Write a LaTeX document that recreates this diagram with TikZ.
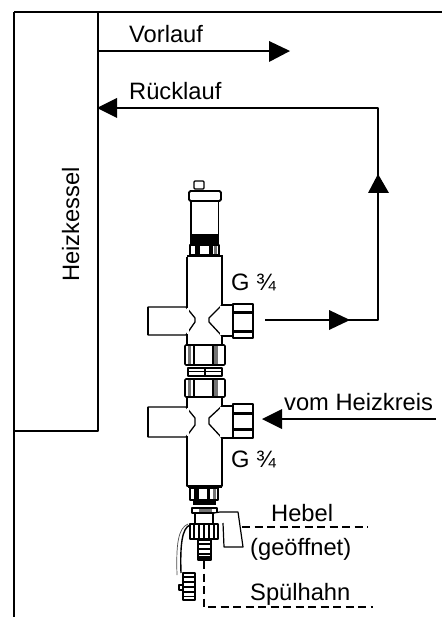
\documentclass[tikz,border=0pt]{standalone}
\usepackage{fontspec}
\setmainfont{Liberation Sans}
\begin{document}
\begin{tikzpicture}[x=1pt,y=-1pt,line join=round,
  wall/.style={line width=1.5pt},
  pipe/.style={line width=1.3pt},
  pipe thick/.style={line width=1.9pt},
  leader/.style={line width=1.2pt,dash pattern=on 8pt off 4.5pt},
  part/.style={draw,fill=white,line width=1.3pt},
  ink/.style={fill=black,draw=none},
  grey/.style={fill=black!55,draw=none},
  lbl/.style={inner sep=0pt,font=\fontsize{23.7pt}{26pt}\selectfont,anchor=base west},
  tip/.style={fill=black,draw=none}]
\useasboundingbox (0,0) rectangle (442,617);
\fill[white] (0,0) rectangle (442,617);
% boiler
\coordinate (tl) at (14,12); \coordinate (tr) at (442,12);
\coordinate (tm) at (98,12); \coordinate (bm) at (98,431);
\coordinate (bl) at (14,431); \coordinate (ll) at (14,617);
\draw[wall] (tl)--(tr);
\draw[wall] (tl)--(ll);
\draw[wall] (tm)--(bm)--(bl);
\node[lbl,rotate=90] (heiz) at (79,282) {Heizkessel};
% pipes
\coordinate (v0) at (98,51); \coordinate (v1) at (272,51);
\draw[pipe] (v0)--(v1);
\fill[tip] (269,41)--(290,51)--(269,62)--cycle;
\coordinate (r0) at (378,108); \coordinate (r1) at (110,108);
\coordinate (r2) at (378,320); \coordinate (r3) at (340,320);
\coordinate (r4) at (378,302); \coordinate (r5) at (378,190);
\coordinate (r6) at (265,320); \coordinate (r7) at (332,320);
\draw[pipe] (r3)--(r2)--(r0)--(r1);
\draw[pipe thick] (r4)--(r5);
\draw[pipe thick] (r6)--(r7);
\fill[tip] (97,108)--(117,98)--(117,118)--cycle;
\fill[tip] (378,174)--(368,193)--(389,193)--cycle;
\fill[tip] (329,310)--(350,320)--(329,330)--cycle;
\coordinate (h0) at (436,419); \coordinate (h1) at (275,419);
\draw[pipe] (h0)--(h1);
\fill[tip] (262,419)--(282,409)--(282,429)--cycle;
% labels
\node[lbl] (vor) at (129,43) {Vorlauf};
\node[lbl] (rue) at (129,100) {Rücklauf};
\node[lbl] (g1) at (231,290) {G ¾};
\node[lbl] (vom) at (284,410) {vom Heizkreis};
\node[lbl] (g2) at (231,467) {G ¾};
\node[lbl] (heb) at (271,521) {Hebel};
\node[lbl] (geo) at (250,555) {(geöffnet)};
\node[lbl] (spu) at (250,600) {Spülhahn};
% vent
\draw[part,rounded corners=1pt,line width=1.4pt] (194,181) rectangle (204,189);
\draw[part,line width=1.8pt,rounded corners=1.5pt] (189,191) rectangle (221,201);
\draw[part] (191,201) rectangle (218.5,235);
\fill[ink] (190,235) rectangle (219,245);
\draw[part] (190,245) rectangle (219,255);
\fill[ink] (195,245) rectangle (199.5,255);
\fill[ink] (209,245) rectangle (212.5,255);
\fill[grey] (214,246) rectangle (217,254);
% upper body
\draw[part] (187,257) -- (187,345) -- (222,345) -- (222,257);
\draw[line width=2.4pt] (187,256) -- (222.5,256);
% upper left stub
\draw[part] (148,307) -- (186,307) -- (195,318) -- (195,322) -- (186,335) -- (148,335) -- cycle;
\draw[line width=2.2pt] (148,307) -- (148,335);
\fill[white] (186.5,308) rectangle (189,334);
% upper right stub
\draw[part] (222,305) -- (209,318) -- (209,322) -- (222,336);
\draw[part] (222,305) -- (233,305) -- (233,336) -- (222,336);
\fill[white] (220,306) rectangle (223,335);
\draw[part,line width=1.6pt] (233,304) rectangle (253,338);
\fill[ink] (233,310.5) rectangle (253,313.5);
\fill[ink] (233,330) rectangle (253,333);
% upper nut
\draw[part,line width=1.6pt,rounded corners=1pt] (185,345) rectangle (225,365);
\draw[line width=1.3pt] (194,345)--(194,365) (213,345)--(213,365);
\fill[grey] (214,346) rectangle (218,364);
\fill[grey] (188,346) rectangle (191,364);
% ring
\draw[part] (188,368) rectangle (222,371.5);
\draw[part] (188,371.5) rectangle (222,376);
\draw[line width=1.1pt] (205,368)--(205,376);
% lower nut
\draw[part,line width=1.6pt,rounded corners=1pt] (185,379) rectangle (225,397);
\draw[line width=1.3pt] (194,379)--(194,397) (213,379)--(213,397);
\fill[grey] (214,380) rectangle (218,396);
\fill[grey] (188,380) rectangle (191,396);
% lower body
\draw[part] (187,398) -- (187,486) -- (222,486) -- (222,398);
\draw[line width=2.4pt] (188,487) -- (221.5,487);
% lower left stub
\draw[part] (148,407) -- (186,407) -- (195,418) -- (195,425) -- (186,437) -- (148,437) -- cycle;
\draw[line width=2.2pt] (148,407) -- (148,437);
\fill[white] (186.5,408) rectangle (189,436);
% lower right stub
\draw[part] (222,406) -- (209,418) -- (209,424) -- (222,438);
\draw[part] (222,406) -- (233,406) -- (233,438) -- (222,438);
\fill[white] (220,407) rectangle (223,437);
\draw[part,line width=1.6pt] (233,404) rectangle (253,438);
\fill[ink] (233,412) rectangle (253,415);
\fill[ink] (233,428) rectangle (253,431);
% lower thread
\draw[part] (190,488) rectangle (218,500);
\fill[ink] (194,488) rectangle (199,500);
\fill[ink] (207,488) rectangle (210,500);
\fill[grey] (213,489) rectangle (216,499);
\fill[ink] (193,500) rectangle (216,505);
% drain tap
\draw[part,line width=1.5pt] (192,508) rectangle (217,513);
\fill[grey] (199,508.5) rectangle (212,512.5);
\draw[part] (195,513) rectangle (213,524);
\draw[part,line width=1.2pt] (214,513) -- (220,512) -- (238,512) -- (243,547) -- (224,547) -- (223,523);
\draw[part,line width=1.6pt] (190,524) rectangle (218,539);
\foreach \xx in {194,199,204,209,214}{\draw[line width=1.7pt] (\xx,524)--(\xx,539);}
\draw[part] (198,540) rectangle (211,560);
\foreach \yy in {544,549,554}{\draw[line width=1.6pt] (198,\yy)--(211,\yy);}
\fill[ink] (198,556) rectangle (211,561);
\draw[line width=1.4pt] (190,525) .. controls (182,528) and (180,545) .. (181,573);
\draw[line width=.7pt,black!70] (188,524) .. controls (178,528) and (176,545) .. (177,575);
\draw[part] (183,573) rectangle (195,600);
\foreach \yy in {577,582,587,592,596.5}{\draw[line width=1.6pt] (183,\yy)--(195,\yy);}
\draw[part] (179,585) rectangle (183,590);
% leaders
\coordinate (d0) at (242,527); \coordinate (d1) at (368,527);
\draw[leader] (d0)--(d1);
\coordinate (d2) at (204,561); \coordinate (d3) at (204,607); \coordinate (d4) at (373,607);
\draw[leader] (d2)--(d3)--(d4);
\end{tikzpicture}
\end{document}
